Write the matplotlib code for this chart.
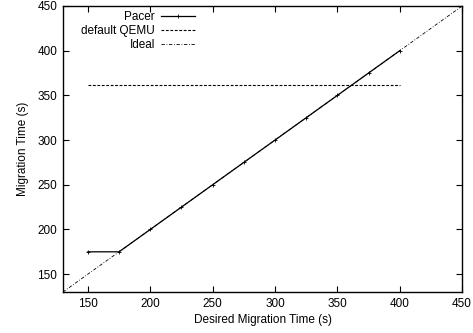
import matplotlib.pyplot as plt

plt.rcParams['font.family'] = ['Liberation Sans', 'DejaVu Sans']
plt.rcParams['font.size'] = 8.5

# Data
desired = [150, 175, 200, 225, 250, 275, 300, 325, 350, 375, 400]
pacer = [175, 175, 200, 225, 250, 275, 300, 325, 350, 375, 400]
qemu_x = [150, 400]
qemu_y = [362, 362]
ideal = [130, 450]

fig = plt.figure(figsize=(4.73, 3.33), dpi=100)
ax = fig.add_axes([0.133, 0.123, 0.844, 0.859])

ax.plot(desired, pacer, color='black', lw=0.9, marker='+', ms=3.5, mew=0.6,
        label='Pacer')
ax.plot(qemu_x, qemu_y, color='black', lw=0.8, dashes=(2.5, 1.5),
        label='default QEMU')
ax.plot(ideal, ideal, color='black', lw=0.6, dashes=(4, 2, 1, 2),
        label='Ideal')

ax.set_xlim(130, 450)
ax.set_ylim(130, 450)
ax.set_xticks(range(150, 451, 50))
ax.set_yticks(range(150, 451, 50))
ax.tick_params(direction='in', top=True, right=True, length=4, width=0.8,
               labelsize=8.5, pad=4)
for s in ax.spines.values():
    s.set_linewidth(1.0)

ax.set_xlabel('Desired Migration Time (s)', fontsize=8.5, labelpad=3)
ax.set_ylabel('Migration Time (s)', fontsize=8.5, labelpad=6)

ax.legend(loc='upper right', bbox_to_anchor=(0.337, 0.99), frameon=False,
          markerfirst=False, handlelength=2.9, handletextpad=0.5,
          labelspacing=0.15, fontsize=8.5, borderaxespad=0, borderpad=0.2)

fig.savefig('out.png', dpi=100)
